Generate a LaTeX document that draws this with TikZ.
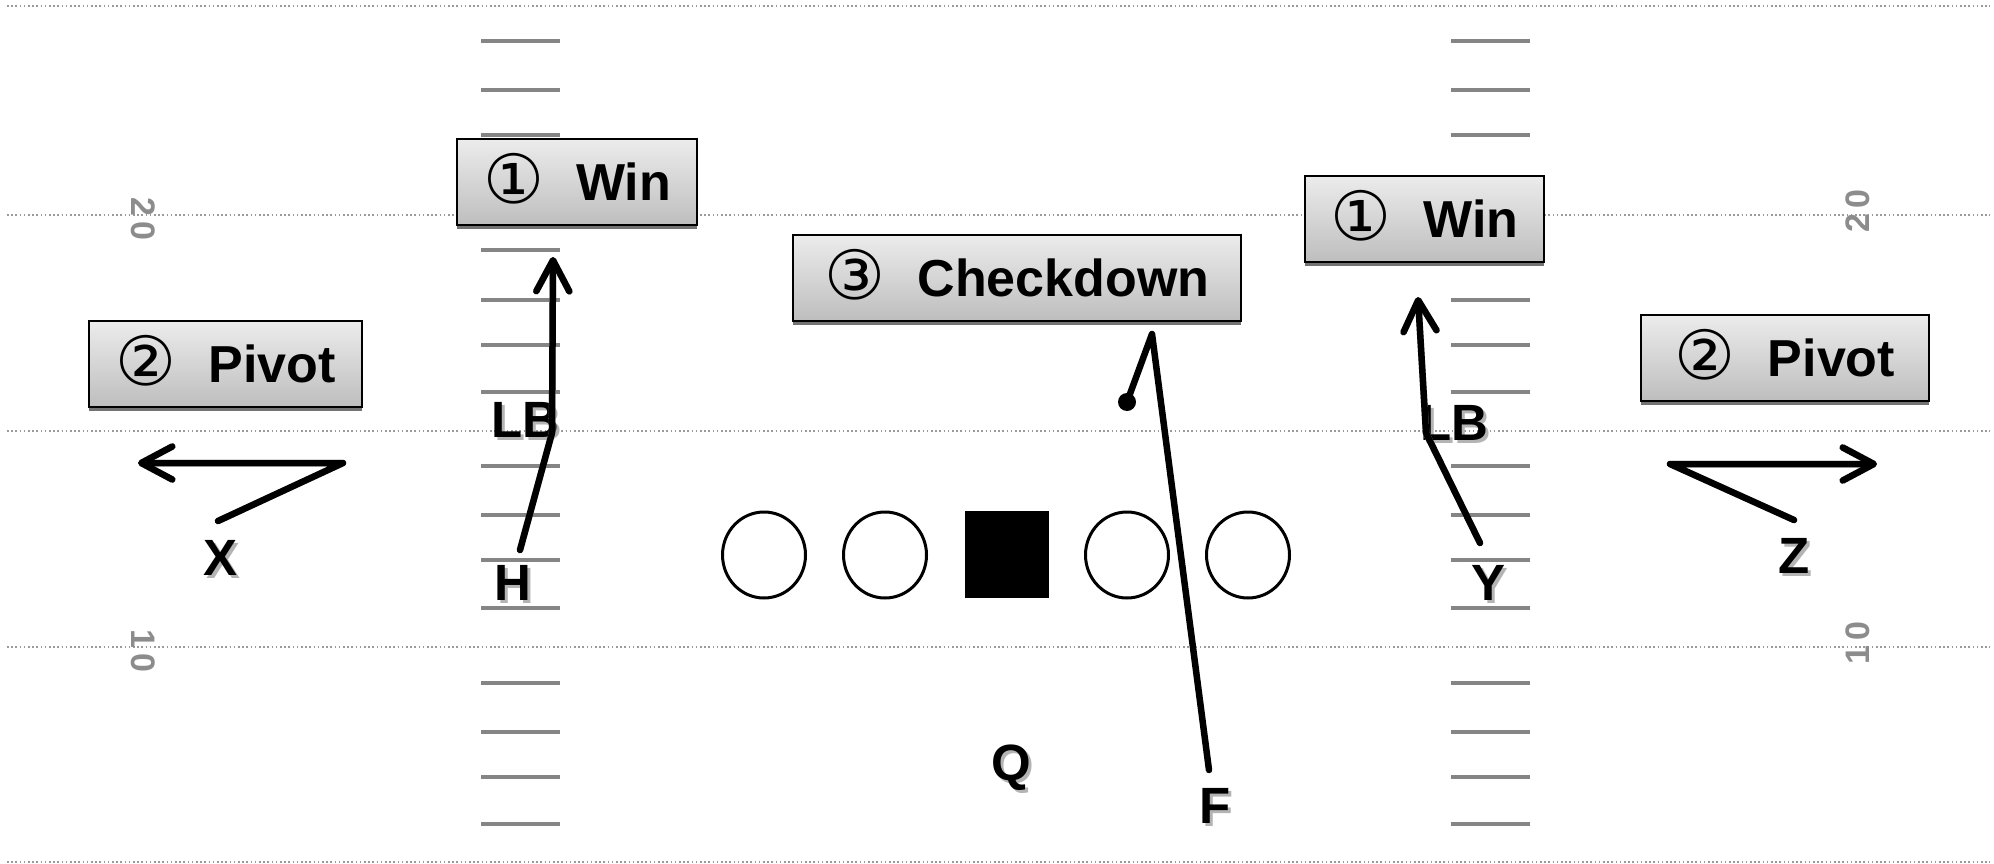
\documentclass[tikz,border=0pt]{standalone}
\usepackage{fontspec}
\setmainfont{Liberation Sans}
\newfontfamily\circfont{DejaVu Sans}
\usetikzlibrary{arrows.meta,calc,shapes.geometric}
\definecolor{boxtop}{HTML}{ECECEC}
\definecolor{boxbot}{HTML}{BEBEBE}
\definecolor{hashgray}{HTML}{858585}
\definecolor{yardgray}{HTML}{8C8C8C}
\definecolor{dotgray}{HTML}{9A9A9A}
\definecolor{shadowgray}{HTML}{B4B4B4}
\tikzset{
 yardline/.style={draw=dotgray, line width=1.6pt, dash pattern=on 1.6pt off 2.6pt},
 hashmark/.style={draw=hashgray, line width=3.5pt},
 callout/.style={draw=black, line width=2pt, top color=boxtop, bottom color=boxbot,
   minimum height=86pt, inner sep=0pt, font=\fontsize{52}{60}\selectfont\bfseries},
 boxshadow/.style={fill=black!55},
 lbl/.style={font=\fontsize{51}{56}\selectfont\bfseries, inner sep=0pt, text depth=0pt},
 lblshadow/.style={lbl, text=shadowgray},
 route/.style={line width=6.5pt, line cap=round, line join=round},
 routeshadow/.style={route, draw=shadowgray},
 arrowtip/.style={-{Straight Barb[length=31pt,width=33pt,round]}},
 lineman/.style={draw, line width=3pt, ellipse, minimum width=83pt, minimum height=86pt, inner sep=0pt},
 centerman/.style={fill=black, minimum width=84pt, minimum height=87pt, inner sep=0pt},
 yardnum/.style={text=yardgray, font=\fontsize{34}{36}\selectfont\bfseries, inner sep=0pt},
 enddot/.style={circle, fill=black, minimum size=18pt, inner sep=0pt}
}
\newcommand\cnum[1]{\smash{\raisebox{-3pt}{\circfont\mdseries\fontsize{68}{70}\selectfont #1}}}
\newcommand\callbox[5]{%
  \fill[boxshadow] (#2-#4/2,#3-39) rectangle (#2+#4/2,#3+47);
  \node[callout, minimum width=#4pt] (#1) at (#2,#3) {#5};}
\newcommand\playerlabel[4]{%
  \node[lblshadow] (#1s) at (#2+3,#3+3) {#4};
  \node[lbl] (#1) at (#2,#3) {#4};}
\begin{document}
\begin{tikzpicture}[x=1pt,y=-1pt]
\useasboundingbox (0,0) rectangle (1994,864);
\fill[white] (0,0) rectangle (1994,864);

% yard lines
\foreach \yy in {6,215,431,647,862} {\draw[yardline] (7,\yy) -- (1990,\yy);}
% hash marks
\foreach \yy in {41,90,135,181,250,300,345,392,466,515,560,608,683,732,777,824} {
  \draw[hashmark] (481,\yy) -- (560,\yy);
  \draw[hashmark] (1451,\yy) -- (1530,\yy);
}
% yard numbers
\node[yardnum, rotate=-90] (n20l) at (143,219) {2\hspace{6pt}0};
\node[yardnum, rotate=-90] (n10l) at (143,651) {1\hspace{6pt}0};
\node[yardnum, rotate=90] (n20r) at (1858,211) {2\hspace{6pt}0};
\node[yardnum, rotate=90] (n10r) at (1858,643) {1\hspace{6pt}0};

% offensive line
\node[lineman] (lt) at (764,555) {};
\node[lineman] (lg) at (885,555) {};
\node[centerman] (c) at (1006.5,554.5) {};
\node[lineman] (rg) at (1127,555) {};
\node[lineman] (rt) at (1248,555) {};

% player labels
\playerlabel{X}{221}{558}{X}
\playerlabel{H}{513}{583}{H}
\playerlabel{Y}{1488}{583}{Y}
\playerlabel{Z}{1794}{556}{Z}
\playerlabel{Q}{1011}{763}{Q}
\playerlabel{F}{1215}{806}{F}
\playerlabel{LBl}{525}{420}{LB}
\playerlabel{LBr}{1454}{423}{LB}

% route points
\coordinate (x0) at (218,521); \coordinate (x1) at (343,463); \coordinate (x2) at (138,463);
\coordinate (h0) at (520,550); \coordinate (h1) at (552,433); \coordinate (h2) at (553,257);
\coordinate (y0) at (1480,543); \coordinate (y1) at (1426,433); \coordinate (y2) at (1418,297);
\coordinate (z0) at (1794,520); \coordinate (z1) at (1670,464); \coordinate (z2) at (1877,464);
\coordinate (f0) at (1209,770); \coordinate (f1) at (1152,334);
\node[enddot] (fdot) at (1127,402) {};

% route shadows
\begin{scope}[shift={(2,2)}]
\draw[routeshadow, arrowtip] (x0) -- (x1) -- (x2);
\draw[routeshadow, arrowtip] (h0) -- (h1) -- (h2);
\draw[routeshadow, arrowtip] (y0) -- (y1) -- (y2);
\draw[routeshadow, arrowtip] (z0) -- (z1) -- (z2);
\end{scope}
% routes
\draw[route, arrowtip] (x0) -- (x1) -- (x2);
\draw[route, arrowtip] (h0) -- (h1) -- (h2);
\draw[route, arrowtip] (y0) -- (y1) -- (y2);
\draw[route, arrowtip] (z0) -- (z1) -- (z2);
\draw[route] (f0) -- (f1) -- (fdot.center);

% call-out boxes
\callbox{winL}{577}{182}{240}{\cnum{①}\hspace{32pt}Win}
\callbox{winR}{1424.5}{218.5}{239}{\cnum{①}\hspace{32pt}Win}
\callbox{check}{1017}{277.5}{448}{\cnum{③}\hspace{32pt}Checkdown}
\callbox{pivL}{225.5}{363.5}{273}{\cnum{②}\hspace{32pt}Pivot}
\callbox{pivR}{1785}{357.5}{288}{\cnum{②}\hspace{32pt}Pivot}
\end{tikzpicture}
\end{document}
